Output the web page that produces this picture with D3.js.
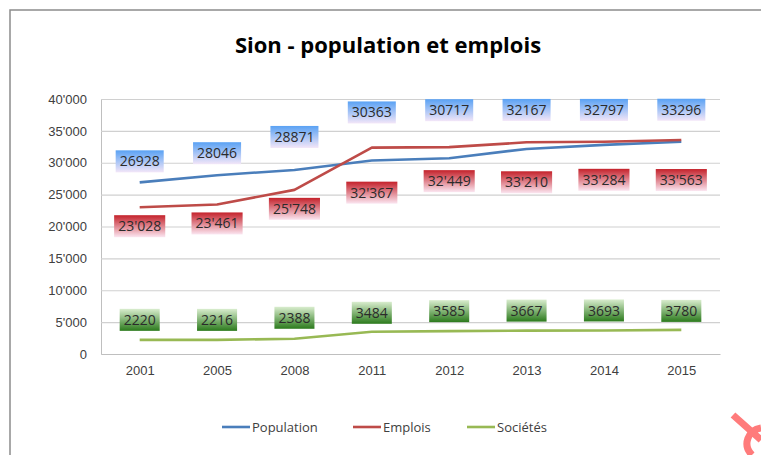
<!DOCTYPE html>
<html>
<head>
<meta charset="utf-8">
<script src="https://cdn.jsdelivr.net/npm/d3@7"></script>
<style>
  body { margin: 0; background: #fff; }
  svg { display: block; font-family: "Open Sans", "Noto Sans", sans-serif; }
</style>
</head>
<body>
<script>
//////////////// Data ////////////////////
var years = ["2001", "2005", "2008", "2011", "2012", "2013", "2014", "2015"];
var population = [26928, 28046, 28871, 30363, 30717, 32167, 32797, 33296];
var emplois = [23028, 23461, 25748, 32367, 32449, 33210, 33284, 33563];
var societes = [2220, 2216, 2388, 3484, 3585, 3667, 3693, 3780];
var yTicks = [0, 5000, 10000, 15000, 20000, 25000, 30000, 35000, 40000];

//////////////// Layout ////////////////////
var W = 761, H = 455;
var margin = {top: 99, right: 41, bottom: 101, left: 101},
  width = W - margin.left - margin.right,
  height = H - margin.top - margin.bottom;

// vertical offsets (px) of the data labels from their point, as placed in the original
var labelDy = {
  pop: [-21, -22, -33, -48, -48, -39, -35, -32],
  emp: [19, 19, 19, 45, 34, 40, 38, 40],
  soc: [-20, -20, -21, -19, -20, -20, -20, -19]
};

var series = [
  {key: "pop", name: "Population", values: population, color: "#4a7ebb",
   grad: ["#5aa2f4", "#f3e6f8"], fmt: d3.format("d")},
  {key: "emp", name: "Emplois", values: emplois, color: "#be4b48",
   grad: ["#c4222b", "#fbe6f1"], fmt: function(v){ return d3.format(",")(v).replace(/,/g, "'"); }},
  {key: "soc", name: "Sociétés", values: societes, color: "#98b954",
   grad: ["#d9edce", "#2b7a1c"], fmt: d3.format("d")}
];

//////////////// SVG ////////////////////
var root = d3.select("body").append("svg")
  .attr("width", W)
  .attr("height", H);

var defs = root.append("defs");
series.forEach(function(s) {
  var g = defs.append("linearGradient")
    .attr("id", "grad-" + s.key)
    .attr("x1", 0).attr("y1", 0).attr("x2", 0).attr("y2", 1);
  g.append("stop").attr("offset", "0%").attr("stop-color", s.grad[0]);
  g.append("stop").attr("offset", "100%").attr("stop-color", s.grad[1]);
});

// chart frame (continues past the window edges)
root.append("rect")
  .attr("x", 10).attr("y", 10)
  .attr("width", 800).attr("height", 500)
  .attr("fill", "none")
  .attr("stroke", "#8c8c8c")
  .attr("stroke-width", 1.5);

// title
root.append("text")
  .attr("x", 388).attr("y", 53)
  .attr("text-anchor", "middle")
  .style("font-size", "22px")
  .style("font-weight", "bold")
  .style("fill", "#000")
  .text("Sion - population et emplois");

var svg = root.append("g")
  .attr("transform", "translate(" + margin.left + "," + margin.top + ")");

///////////////////////// Scales /////////////////////////
var xScale = d3.scalePoint()
  .domain(years)
  .range([0, width])
  .padding(0.5);
var yScale = d3.scaleLinear()
  .domain([0, 40000])
  .range([height, 0]);

///////////////////////// Axes /////////////////////////
var yAxis = d3.axisLeft(yScale)
  .tickValues(yTicks)
  .tickSize(-width)
  .tickPadding(14)
  .tickFormat(function(v){ return v === 0 ? "0" : d3.format(",")(v).replace(/,/g, "'"); });

var yAxisG = svg.append("g").attr("class", "y axis").call(yAxis);
yAxisG.select(".domain").attr("stroke", "#bfbfbf");
yAxisG.selectAll(".tick line").attr("stroke", "#d0d0d0").attr("stroke-width", 1.2);
yAxisG.selectAll(".tick text")
  .style("font-size", "13px")
  .style("fill", "#404040");

var xAxis = d3.axisBottom(xScale).tickSize(0).tickPadding(12);
var xAxisG = svg.append("g")
  .attr("class", "x axis")
  .attr("transform", "translate(0," + height + ")")
  .call(xAxis);
xAxisG.select(".domain").attr("stroke", "#bfbfbf").attr("stroke-width", 1.2);
xAxisG.selectAll(".tick text")
  .style("font-size", "13px")
  .style("fill", "#404040");

///////////////////////// Lines /////////////////////////
var line = d3.line()
  .x(function(d, i){ return xScale(years[i]); })
  .y(function(d){ return yScale(d); });

svg.selectAll("path.serie")
  .data(series)
  .enter()
  .append("path")
  .attr("class", "serie")
  .attr("d", function(s){ return line(s.values); })
  .attr("fill", "none")
  .attr("stroke", function(s){ return s.color; })
  .attr("stroke-width", 2.6)
  .attr("stroke-linejoin", "round");

///////////////////////// Data labels /////////////////////////
series.forEach(function(s) {
  var lab = svg.append("g").attr("class", "labels-" + s.key)
    .selectAll("g")
    .data(s.values)
    .enter()
    .append("g")
    .attr("transform", function(d, i){
      return "translate(" + xScale(years[i]) + "," + (yScale(d) + labelDy[s.key][i]) + ")";
    });

  var txt = lab.append("text")
    .attr("text-anchor", "middle")
    .attr("dy", "0.36em")
    .style("font-size", "14px")
    .style("fill", "#2b2b2b")
    .text(function(d){ return s.fmt(d); });

  lab.each(function() {
    var g = d3.select(this);
    var bb = g.select("text").node().getBBox();
    g.insert("rect", "text")
      .attr("x", -bb.width / 2 - 4)
      .attr("y", -11)
      .attr("width", bb.width + 8)
      .attr("height", 22)
      .attr("fill", "url(#grad-" + s.key + ")");
  });
});

///////////////////////// Legend /////////////////////////
var legendX = [222, 353, 467];
var legend = root.append("g").attr("class", "legend")
  .selectAll("g")
  .data(series)
  .enter()
  .append("g")
  .attr("transform", function(s, i){ return "translate(" + legendX[i] + ",427)"; });

legend.append("line")
  .attr("x1", 0).attr("x2", 28)
  .attr("stroke", function(s){ return s.color; })
  .attr("stroke-width", 2.6);

legend.append("text")
  .attr("x", 30)
  .attr("dy", "0.35em")
  .style("font-size", "13px")
  .style("fill", "#404040")
  .text(function(s){ return s.name; });

// watermark fragment in the corner
root.append("path")
  .attr("d", "M733,415 L761,440 M752,455 C742,445 748,430 761,428")
  .attr("fill", "none")
  .attr("stroke", "#ff7b7b")
  .attr("stroke-width", 7);
</script>
</body>
</html>
